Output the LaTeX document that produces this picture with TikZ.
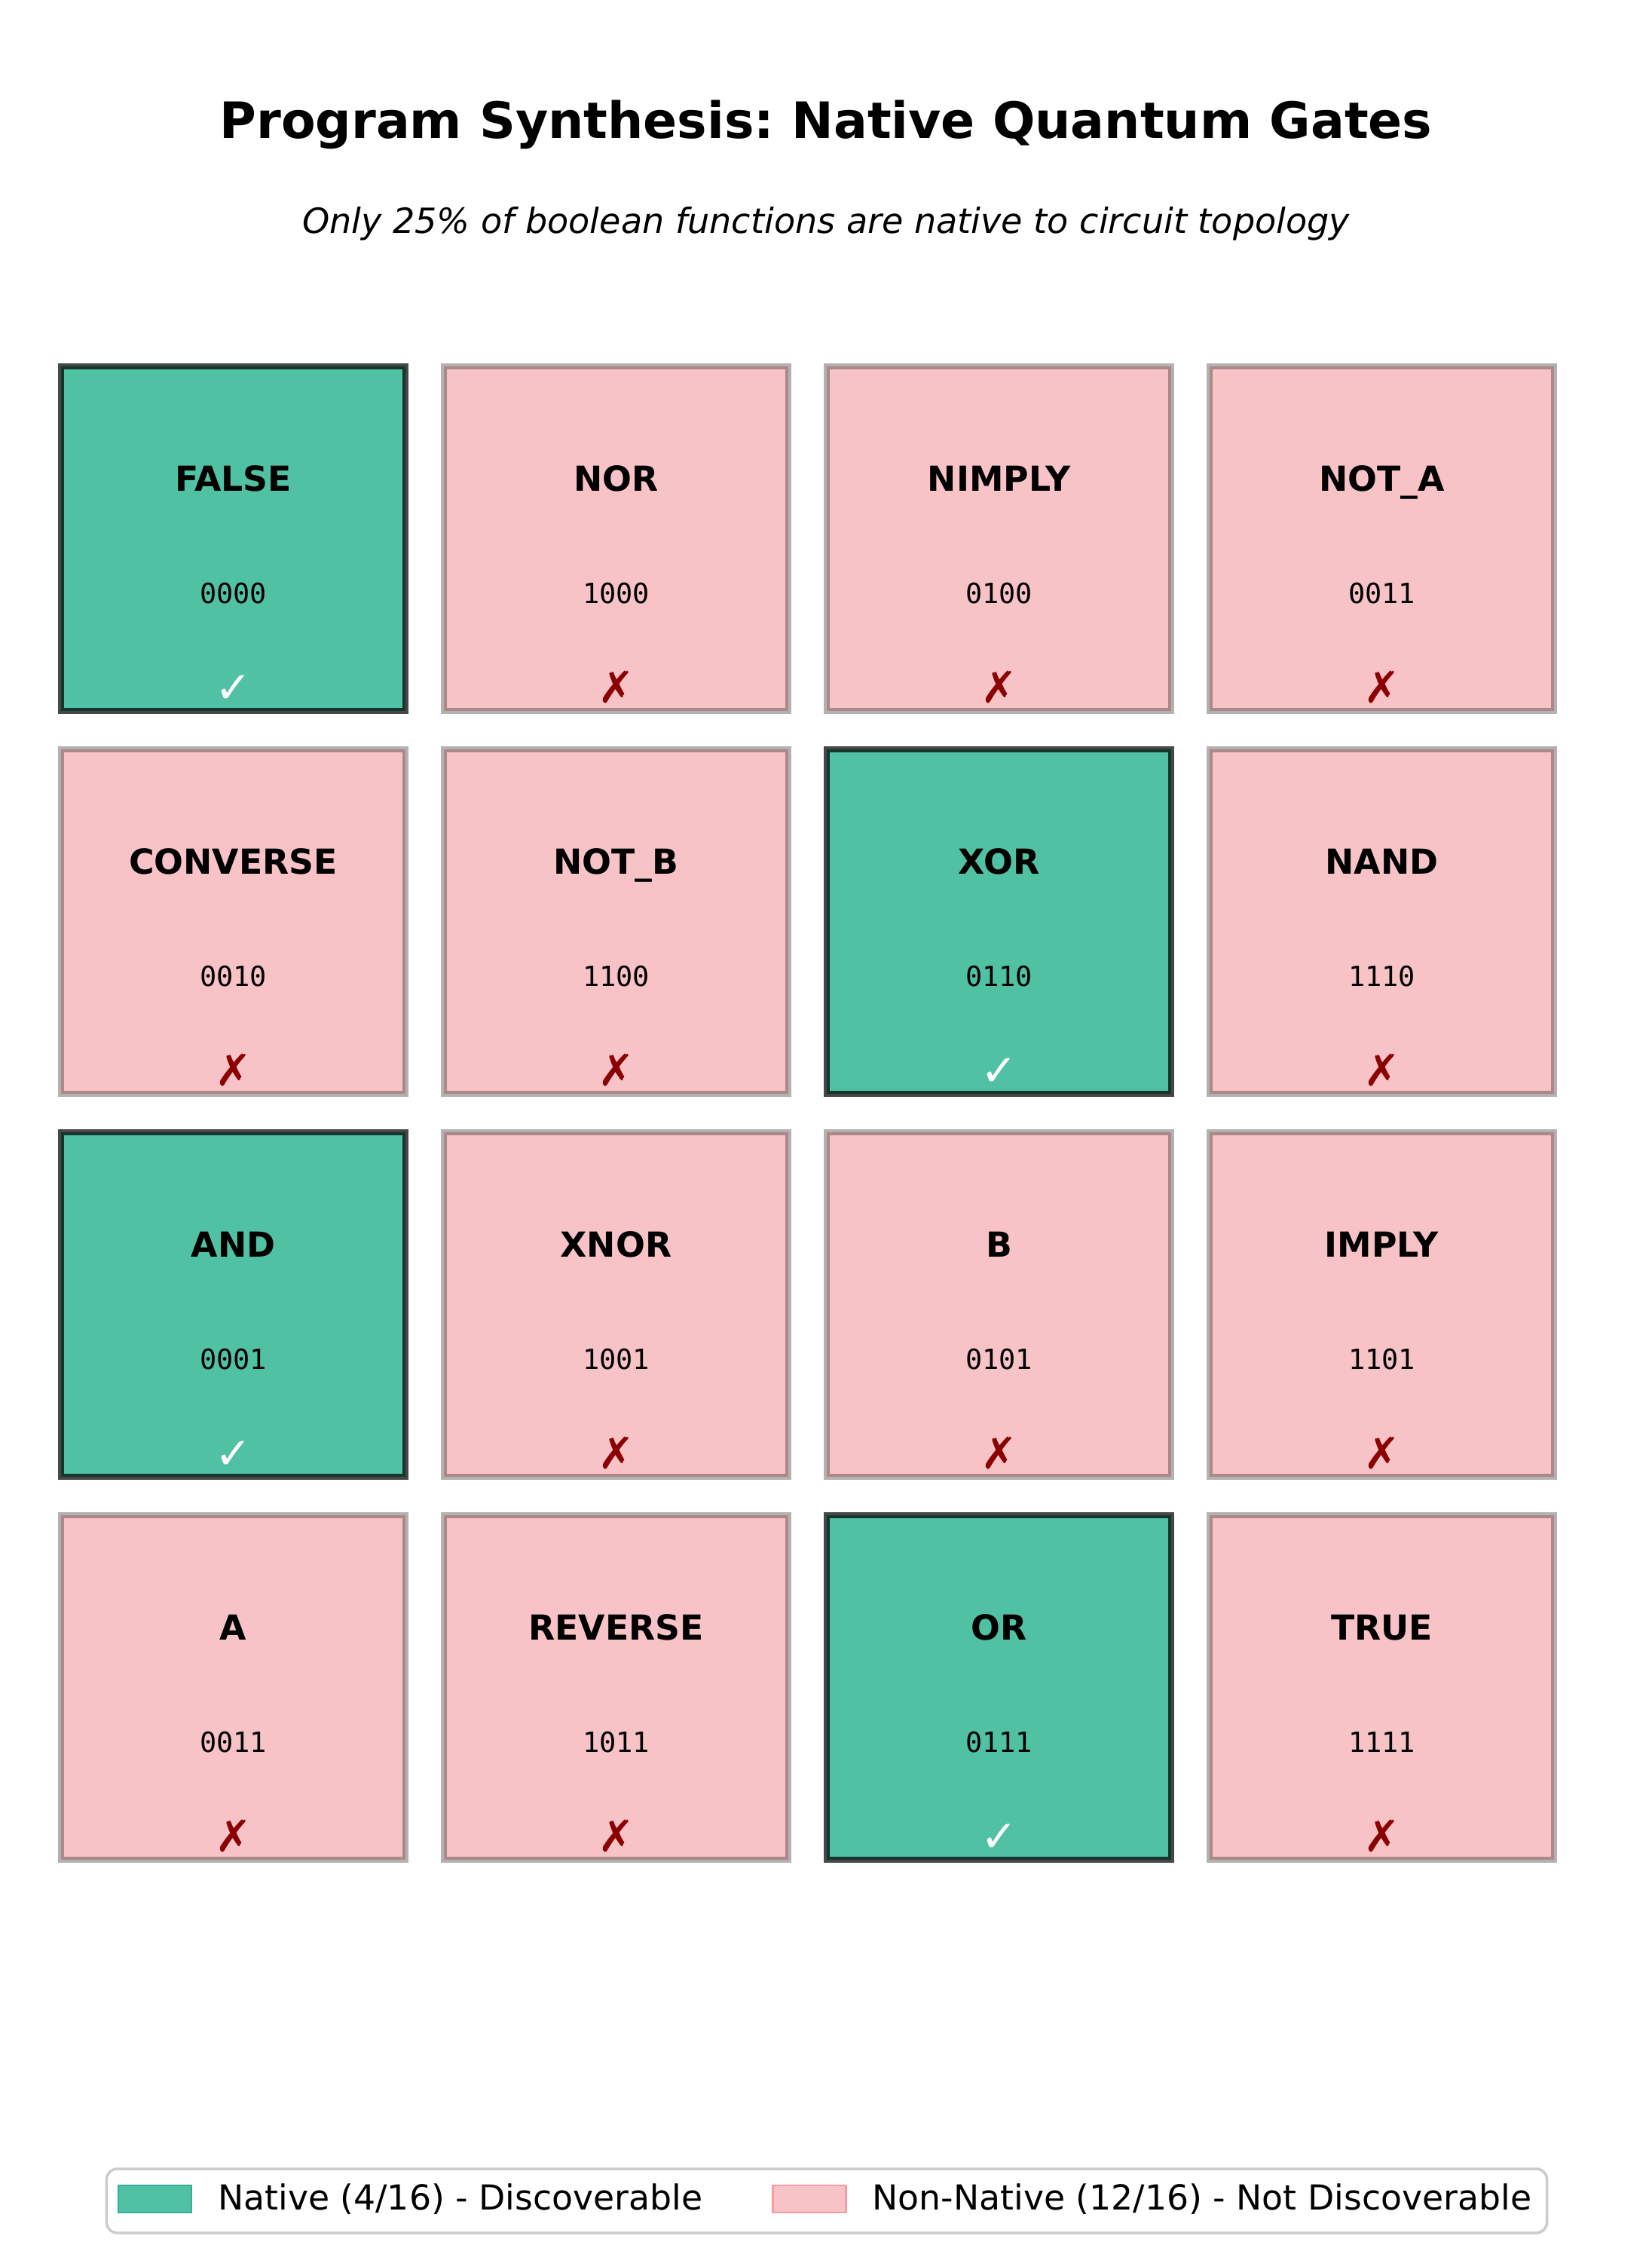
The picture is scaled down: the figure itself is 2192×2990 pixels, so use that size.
\documentclass[tikz,border=0pt]{standalone}
\usepackage{fontspec}
\setmainfont{DejaVu Sans}
\setmonofont{DejaVu Sans Mono}
\usetikzlibrary{positioning}
\frenchspacing

\definecolor{nativegreen}{RGB}{81,193,164}
\definecolor{nonpink}{RGB}{247,195,199}
\definecolor{crossred}{RGB}{139,0,0}
\definecolor{legendframe}{RGB}{204,204,204}

\tikzset{
  gatebox/.style={draw=black, draw opacity=0.3, line width=2.28pt, fill=nonpink,
    minimum size=4.57cm, inner sep=0pt},
  nativebox/.style={gatebox, fill=nativegreen, draw opacity=0.72},
  gatename/.style={font=\fontsize{13}{16}\selectfont\bfseries, inner sep=0pt, anchor=base},
  gatebits/.style={font=\fontsize{10.5}{12}\selectfont\ttfamily, inner sep=0pt, anchor=base},
  gatemark/.style={font=\fontsize{16.5}{19}\selectfont, inner sep=0pt, anchor=base},
  keypatch/.style={line width=0.8pt, minimum width=0.97cm, minimum height=0.36cm, inner sep=0pt},
  keytext/.style={font=\fontsize{13}{15}\selectfont, inner sep=0pt, anchor=west},
}

\begin{document}
\begin{tikzpicture}[x=0.01cm, y=-0.01cm]
  \useasboundingbox (0,0) rectangle (2192,2990);

  \node[font=\fontsize{18.9}{22}\selectfont\bfseries, inner sep=0pt, anchor=base] (title) at (1096,183)
    {Program Synthesis: Native Quantum Gates};
  \node[font=\fontsize{13.1}{15}\selectfont\itshape, inner sep=0pt, anchor=base] (subtitle) at (1096,309)
    {Only 25\% of boolean functions are native to circuit topology};

  % 4x4 grid of truth tables
  \foreach \name/\bits/\ok [count=\i from 0] in {
      FALSE/0000/1, NOR/1000/0, NIMPLY/0100/0, NOT\_A/0011/0,
      CONVERSE/0010/0, NOT\_B/1100/0, XOR/0110/1, NAND/1110/0,
      AND/0001/1, XNOR/1001/0, B/0101/0, IMPLY/1101/0,
      A/0011/0, REVERSE/1011/0, OR/0111/1, TRUE/1111/0} {
    \pgfmathtruncatemacro{\col}{mod(\i,4)}
    \pgfmathtruncatemacro{\row}{int(\i/4)}
    \ifnum\ok=1
      \node[nativebox] (gate\i) at (309.5+508*\col, 714.5+508*\row) {};
      \node[gatemark, text=white] (mark\i) at ([yshift=-2.18cm]gate\i.center) {✓};
    \else
      \node[gatebox] (gate\i) at (309.5+508*\col, 714.5+508*\row) {};
      \node[gatemark, text=crossred] (mark\i) at ([yshift=-2.18cm]gate\i.center) {✗};
    \fi
    \node[gatename] (name\i) at ([yshift=0.625cm]gate\i.center) {\name};
    \node[gatebits] (bits\i) at ([yshift=-0.86cm]gate\i.center) {\bits};
  }

  % legend
  \node[draw=legendframe, line width=1pt, rounded corners=4pt, fill=white,
    minimum width=19.1cm, minimum height=0.85cm, inner sep=0pt] (legend) at (1097,2919.5) {};
  \node[keypatch, draw=nativegreen!70!teal, fill=nativegreen] (nativekey) at (205.5,2917) {};
  \node[keytext, right=0.33cm of nativekey] (nativetext) {Native (4/16) - Discoverable};
  \node[keypatch, draw=nonpink!80!red, fill=nonpink] (nonkey) at (1074,2917) {};
  \node[keytext, right=0.33cm of nonkey] (nontext) {Non-Native (12/16) - Not Discoverable};
\end{tikzpicture}
\end{document}
